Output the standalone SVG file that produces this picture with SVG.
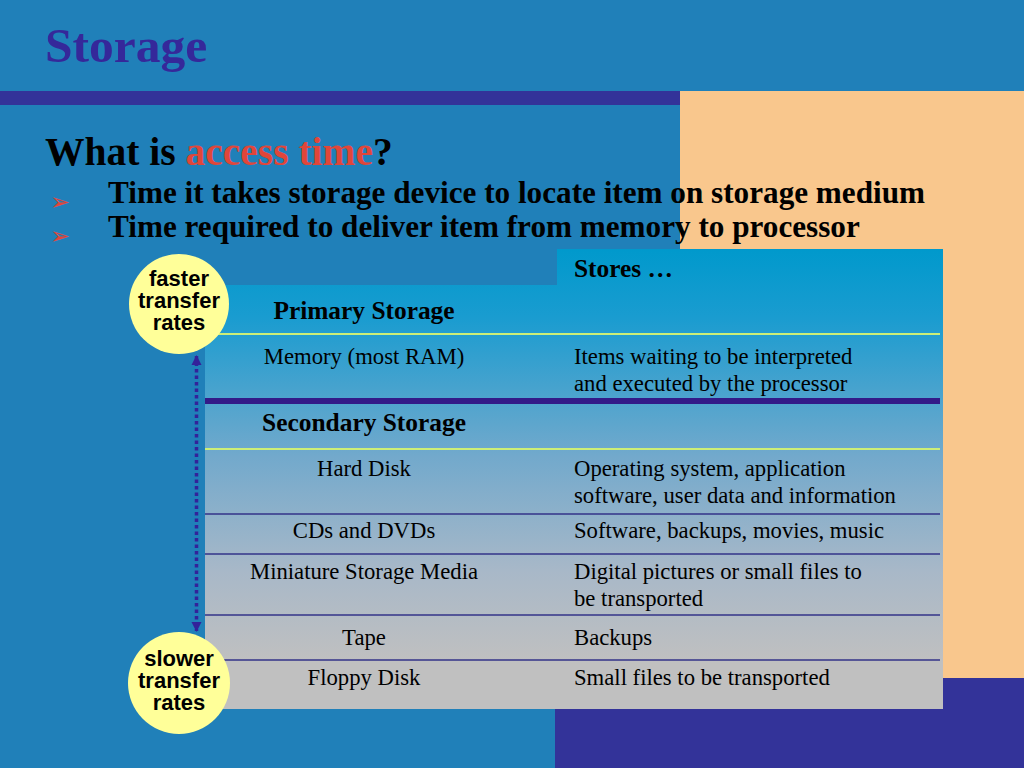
<svg xmlns="http://www.w3.org/2000/svg" width="1024" height="768" viewBox="0 0 1024 768">
<defs>
<linearGradient id="tbl" gradientUnits="userSpaceOnUse" x1="0" y1="249" x2="0" y2="709">
<stop offset="0" stop-color="#0099CC"/>
<stop offset="0.15" stop-color="#1A9CD0"/>
<stop offset="0.45" stop-color="#72A9CC"/>
<stop offset="0.7" stop-color="#A8B8C8"/>
<stop offset="0.9" stop-color="#C0C0C0"/>
<stop offset="1" stop-color="#C0C0C0"/>
</linearGradient>
<marker id="ah" viewBox="0 0 10 10" refX="9" refY="5" markerWidth="3" markerHeight="3" orient="auto-start-reverse">
<path d="M0,0 L10,5 L0,10 z" fill="#33229A"/>
</marker>
</defs>
<style>
.ser{font-family:"Liberation Serif","Times New Roman",serif;fill:#000}
.cell{font-size:22.7px}
.cc{text-anchor:middle}
.hd{font-size:25.4px;font-weight:bold}
.circ{font-family:"Liberation Sans",Arial,sans-serif;font-weight:bold;font-size:22px;text-anchor:middle;fill:#000}
.bul{font-family:"DejaVu Sans",sans-serif;font-size:24px;fill:#E0463A}
.gl{stroke:#CCEE77;stroke-width:2}
.pl{stroke:#333388;stroke-width:1.5}
</style>
<rect width="1024" height="768" fill="#2080B9"/>
<rect x="0" y="91" width="680" height="14" fill="#333399"/>
<rect x="680" y="91" width="344" height="587" fill="#F9C78D"/>
<rect x="555" y="678" width="469" height="90" fill="#333399"/>

<text x="45" y="62" class="ser" style="font-size:49.5px;font-weight:bold;fill:#35289A">Storage</text>
<text x="45" y="165" class="ser" style="font-size:39.5px;font-weight:bold">What is <tspan fill="#E0463A">access time</tspan>?</text>
<text x="50" y="210" class="bul">➢</text>
<text x="108" y="203" class="ser" style="font-size:31.2px;font-weight:bold">Time it takes storage device to locate item on storage medium</text>
<text x="50" y="244" class="bul">➢</text>
<text x="108" y="237" class="ser" style="font-size:31.2px;font-weight:bold">Time required to deliver item from memory to processor</text>

<g id="table">
<path d="M557,249 H943 V709 H205 V285 H557 Z" fill="url(#tbl)"/>
<line x1="205" y1="334" x2="940" y2="334" class="gl"/>
<line x1="205" y1="401" x2="940" y2="401" stroke="#331A88" stroke-width="6"/>
<line x1="205" y1="449" x2="940" y2="449" class="gl"/>
<line x1="205" y1="514" x2="940" y2="514" class="pl"/>
<line x1="205" y1="554" x2="940" y2="554" class="pl"/>
<line x1="205" y1="615" x2="940" y2="615" class="pl"/>
<line x1="205" y1="660" x2="940" y2="660" class="pl"/>
<text x="574" y="277" class="ser hd">Stores …</text>
<text x="364" y="319" class="ser hd cc">Primary Storage</text>
<text x="364" y="364" class="ser cell cc">Memory (most RAM)</text>
<text x="574" y="364" class="ser cell">Items waiting to be interpreted</text>
<text x="574" y="391" class="ser cell">and executed by the processor</text>
<text x="364" y="431" class="ser hd cc">Secondary Storage</text>
<text x="364" y="476" class="ser cell cc">Hard Disk</text>
<text x="574" y="476" class="ser cell">Operating system, application</text>
<text x="574" y="503" class="ser cell">software, user data and information</text>
<text x="364" y="538" class="ser cell cc">CDs and DVDs</text>
<text x="574" y="538" class="ser cell">Software, backups, movies, music</text>
<text x="364" y="579" class="ser cell cc">Miniature Storage Media</text>
<text x="574" y="579" class="ser cell">Digital pictures or small files to</text>
<text x="574" y="606" class="ser cell">be transported</text>
<text x="364" y="645" class="ser cell cc">Tape</text>
<text x="574" y="645" class="ser cell">Backups</text>
<text x="364" y="685" class="ser cell cc">Floppy Disk</text>
<text x="574" y="685" class="ser cell">Small files to be transported</text>
</g>

<g id="connectors">
<line x1="196.5" y1="356" x2="196.5" y2="631" stroke="#33229A" stroke-width="3.5" stroke-dasharray="3.5 3" marker-start="url(#ah)" marker-end="url(#ah)"/>
</g>

<g id="faster">
<circle cx="179" cy="304" r="50" fill="#FFFF99"/>
<text x="179" y="286" class="circ">faster</text>
<text x="179" y="308" class="circ">transfer</text>
<text x="179" y="330" class="circ">rates</text>
</g>
<g id="slower">
<circle cx="179" cy="683" r="51" fill="#FFFF99"/>
<text x="179" y="666" class="circ">slower</text>
<text x="179" y="688" class="circ">transfer</text>
<text x="179" y="710" class="circ">rates</text>
</g>
</svg>
